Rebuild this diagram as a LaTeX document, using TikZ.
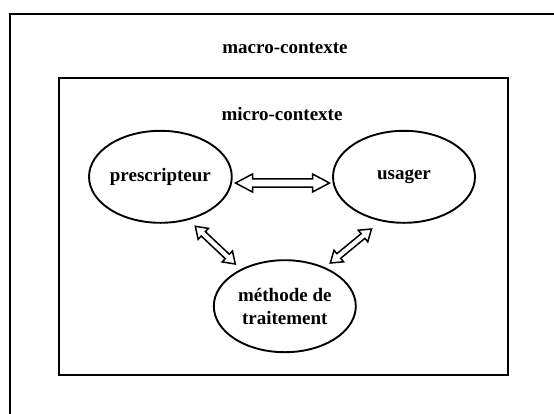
\documentclass[tikz,border=0pt]{standalone}
\usepackage{fontspec}
\setmainfont{Liberation Serif}
\usetikzlibrary{shapes.geometric,calc}

% Outlined block arrow with a head at both ends:
% #1 start, #2 end, #3 shaft half-width, #4 head half-width, #5 head length
\newcommand\hollowarrow[5]{%
  \coordinate (ha) at ($(#1)!#5!(#2)$);
  \coordinate (hb) at ($(#2)!#5!(#1)$);
  \draw[arrowline] (#1)
    -- ($(ha)!#4!90:(#2)$) -- ($(ha)!#3!90:(#2)$)
    -- ($(hb)!#3!-90:(#1)$) -- ($(hb)!#4!-90:(#1)$)
    -- (#2)
    -- ($(hb)!#4!90:(#1)$) -- ($(hb)!#3!90:(#1)$)
    -- ($(ha)!#3!-90:(#2)$) -- ($(ha)!#4!-90:(#2)$)
    -- cycle;
}

\tikzset{
  frame/.style={draw=black, line width=2pt, rectangle, inner sep=0pt, anchor=north west},
  role/.style={draw=black, line width=1.9pt, ellipse, inner sep=0pt,
    minimum width=142pt, minimum height=92pt, align=center,
    font=\fontsize{19}{23}\selectfont\bfseries},
  title/.style={font=\fontsize{19}{23}\selectfont\bfseries},
  arrowline/.style={draw=black, line width=1.5pt, fill=white, line join=miter},
}

\begin{document}
\begin{tikzpicture}[x=1pt, y=-1pt]
  \useasboundingbox (0,0) rectangle (554,413);
  \fill[white] (0,0) rectangle (554,413);
  \clip (0,0) rectangle (554,413);

  % outer context frame (runs off the page on the right and at the bottom)
  \node[frame, minimum width=600pt, minimum height=460pt] (macro) at (9,12.7) {};
  \node[title] (macrolabel) at (285,48.5) {macro-contexte};

  % inner context frame
  \node[frame, minimum width=449pt, minimum height=296.7pt] (micro) at (57.5,77.3) {};
  \node[title] (microlabel) at (282,113.5) {micro-contexte};

  % actors
  \node[role] (pre) at (160.4,176.8) {prescripteur};
  \node[role] (usa) at (404,176.8) {usager};
  \node[role] (met) at (284.8,306.2) {méthode de\\traitement};

  % arrow end points
  \coordinate (pu1) at (235.5,183);
  \coordinate (pu2) at (329.5,183);
  \coordinate (pm1) at (195.3,226.3);
  \coordinate (pm2) at (235.3,264);
  \coordinate (um1) at (371.5,229);
  \coordinate (um2) at (330.3,263);

  \hollowarrow{pu1}{pu2}{4.2pt}{9pt}{17pt}
  \hollowarrow{pm1}{pm2}{3pt}{7.5pt}{11pt}
  \hollowarrow{um1}{um2}{3pt}{7.5pt}{11pt}
\end{tikzpicture}
\end{document}
